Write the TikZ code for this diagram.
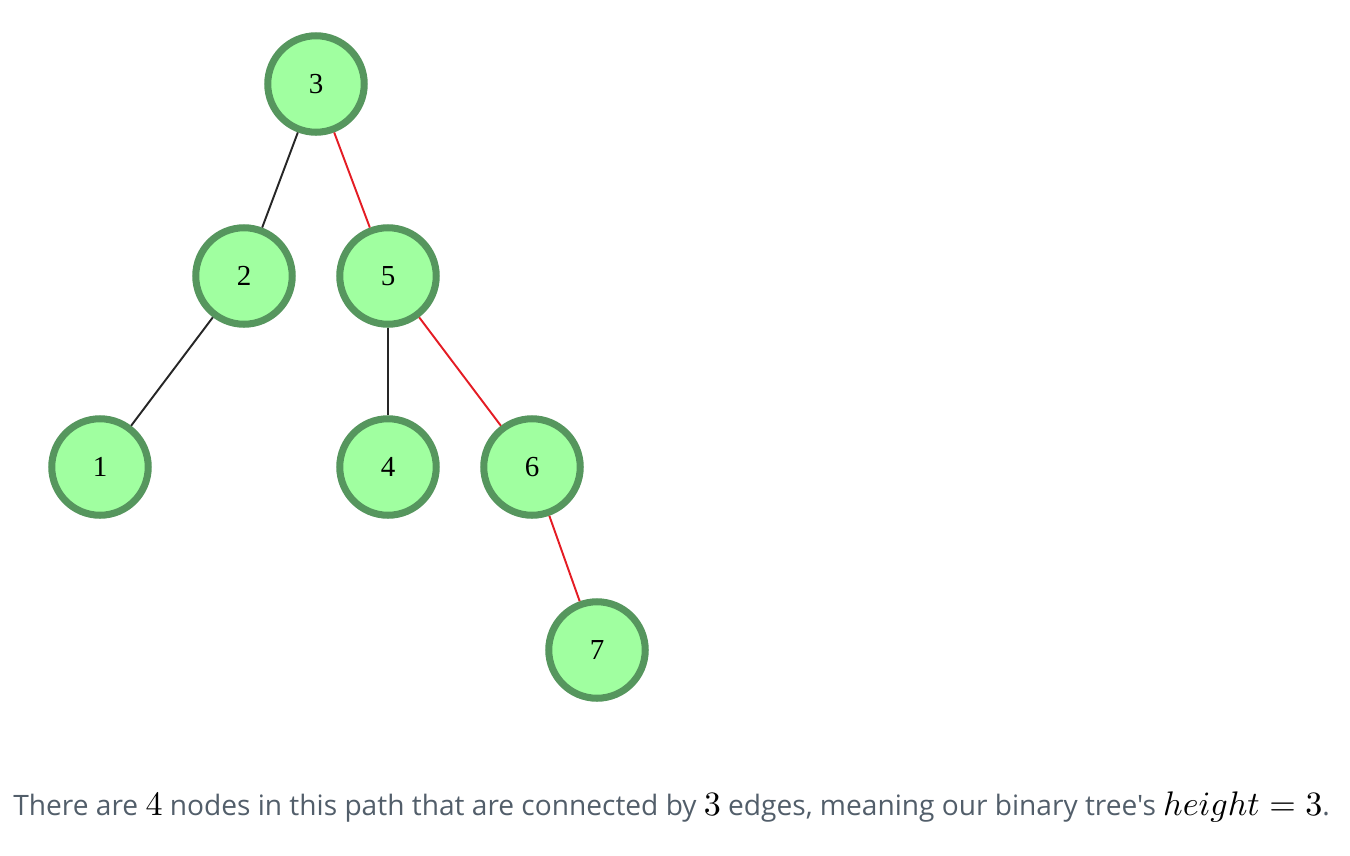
\documentclass[tikz,border=0pt]{standalone}
\usepackage[no-math]{fontspec}
\usepackage{graphicx}
\newfontfamily\labelfont{Liberation Serif}
\newfontfamily\captionfont{Open Sans}
\usepackage{xcolor}
\usetikzlibrary{positioning}
\definecolor{nodefill}{RGB}{160,255,160}
\definecolor{nodeedge}{RGB}{86,150,94}
\definecolor{pathred}{RGB}{228,28,36}
\definecolor{captiongray}{RGB}{82,94,106}
\newcommand{\capmath}[1]{{\color{black}\scalebox{1.94}{\normalsize$#1$}}}

\begin{document}
\begin{tikzpicture}[
	x=0.02cm, y=-0.02cm,
	% --- STYLES ---
	treenode/.style={
		circle,
		draw=nodeedge,
		fill=nodefill,
		line width=4pt,
		minimum size=1.93cm,
		inner sep=0pt,
		font=\labelfont\fontsize{16.5}{18}\selectfont
	},
	edge/.style={
		line width=1.1pt,
		black!85
	},
	hedge/.style={
		line width=1.1pt,
		pathred
	},
	caption/.style={
		font=\captionfont\fontsize{16}{19}\selectfont,
		text=captiongray,
		inner sep=0pt
	}
	]
	
	\useasboundingbox (0,0) rectangle (1350,856);
	
	% --- Nodes ---
	\node[treenode] (n3) at (316,84) {3};
	\node[treenode] (n2) at (244,276) {2};
	\node[treenode] (n5) at (388,276) {5};
	\node[treenode] (n1) at (100,467) {1};
	\node[treenode] (n4) at (388,467) {4};
	\node[treenode] (n6) at (532,467) {6};
	\node[treenode] (n7) at (597,650) {7};
	
	% --- Connections ---
	\draw[edge] (n3) -- (n2);
	\draw[hedge] (n3) -- (n5);
	\draw[edge] (n2) -- (n1);
	\draw[edge] (n5) -- (n4);
	\draw[hedge] (n5) -- (n6);
	\draw[hedge] (n6) -- (n7);
	
	% --- Caption ---
	\node[caption, anchor=base west] (cap) at (13,815) {There are \capmath{4} nodes in this path that are connected by \capmath{3} edges, meaning our binary tree's \capmath{height=3}.};
	
\end{tikzpicture}
\end{document}
